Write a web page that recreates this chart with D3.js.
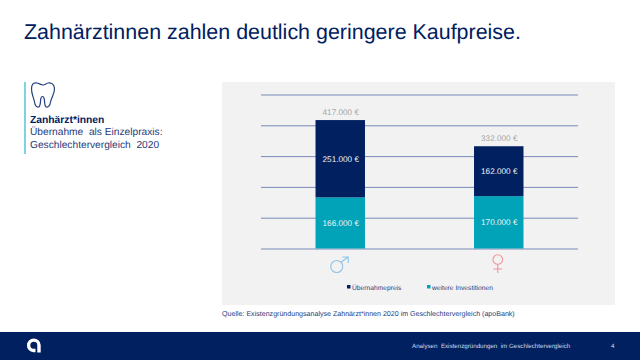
<!DOCTYPE html>
<html lang="de">
<head>
<meta charset="utf-8">
<title>Kaufpreise</title>
<script src="https://cdn.jsdelivr.net/npm/d3@7"></script>
<style>
	html, body { margin: 0; padding: 0; background: #fff; }
	svg { display: block; font-family: "Liberation Sans", Arial, sans-serif; text-rendering: geometricPrecision; }
</style>
</head>
<body>
<div id="chart"></div>
<script>
// Data
const categories = ["männlich", "weiblich"];
const seriesNames = ["weitere Investitionen", "Übernahmepreis"];
const weitereInvestitionen = [166000, 170000];
const uebernahmepreis = [251000, 162000];
const totals = [417000, 332000];
const tickValues = [0, 100000, 200000, 300000, 400000, 500000];
const legendLabels = ["Übernahmepreis", "weitere Investitionen"];

// Configuration variables
const navy = "#002060";
const teal = "#00a3b8";
const gridColor = "#7a8bb8";
const textBlue = "#1f3a7a";

const svg = d3.select("#chart").append("svg").attr("width", 640).attr("height", 360);

const x = d3.scaleBand().domain(categories).range([261, 578]).paddingInner(0.688).paddingOuter(0.344);
const y = d3.scaleLinear().domain([0, 500000]).range([248.5, 94.5]);
const color = d3.scaleOrdinal().domain(seriesNames).range([teal, navy]);
const euro = (v) => d3.format(",")(v).replace(/,/g, ".") + " €";

// Title
svg.append("text").attr("x", 24).attr("y", 38.5).attr("font-size", 21.45).attr("fill", navy)
	.text("Zahnärztinnen zahlen deutlich geringere Kaufpreise.");

// Left info block
svg.append("rect").attr("x", 24).attr("y", 82).attr("width", 2).attr("height", 72).attr("fill", "#7fd3dc");
svg.append("path")
	.attr("d", "M37 83 C33 82 31.500 85 31.500 89 C31.500 94 33.500 97 34.500 102 C35 106 37 107.500 38.500 107 C41 106.500 40 101 41 98 C41.500 96 43.500 96 44 98 C45 101 44 106.500 46.500 107 C48 107.500 50 106 50.500 102 C51.500 97 54.500 94 54.500 89 C54.500 85 52 82 48 83 C46 83.500 45 85 43 85 C41 85 39 83.500 37 83 Z")
	.attr("fill", "none").attr("stroke", "#24407f").attr("stroke-width", 1.2);
svg.append("text").attr("x", 30).attr("y", 122.500).attr("font-size", 10.300).attr("font-weight", "bold").attr("fill", navy).text("Zanhärzt*innen");
const infoText = svg.append("text").attr("x", 30).attr("font-size", 10.200).attr("fill", textBlue).style("white-space", "pre");
infoText.append("tspan").attr("x", 30).attr("y", 135).text("Übernahme  als Einzelpraxis:");
infoText.append("tspan").attr("x", 30).attr("y", 148).text("Geschlechtervergleich  2020");

// Chart panel
svg.append("rect").attr("x", 222).attr("y", 82).attr("width", 393).attr("height", 223).attr("fill", "#f2f2f2");

// Gridlines
const grid = svg.append("g").attr("transform", "translate(261,0)")
	.call(d3.axisRight(y).tickValues(tickValues).tickSize(317).tickFormat(""));
grid.select(".domain").remove();
grid.selectAll("line").attr("stroke", gridColor).attr("stroke-width", 1);

// Stacked bars
const stackRows = categories.map((c, i) => ({
	category: c,
	"weitere Investitionen": weitereInvestitionen[i],
	"Übernahmepreis": uebernahmepreis[i],
}));
const stacked = d3.stack().keys(seriesNames)(stackRows);

const layers = svg.append("g").selectAll("g").data(stacked).enter().append("g").attr("fill", (d) => color(d.key));
layers.selectAll("rect").data((d) => d).enter().append("rect")
	.attr("x", (d) => x(d.data.category))
	.attr("y", (d) => y(d[1]))
	.attr("width", x.bandwidth())
	.attr("height", (d) => y(d[0]) - y(d[1]));
layers.selectAll("text").data((d) => d).enter().append("text")
	.attr("x", (d) => x(d.data.category) + x.bandwidth() / 2 + 0.5)
	.attr("y", (d) => (y(d[0]) + y(d[1])) / 2 + 2.800)
	.attr("text-anchor", "middle").attr("font-size", 8.200).attr("fill", "#eef2f6")
	.text((d) => euro(d[1] - d[0]));

// Totals above bars
svg.append("g").selectAll("text").data(categories).enter().append("text")
	.attr("x", (d) => x(d) + x.bandwidth() / 2 + 0.5)
	.attr("y", (d, i) => y(totals[i]) - 5.500)
	.attr("text-anchor", "middle").attr("font-size", 8.200).attr("fill", "#a6a6a6")
	.text((d, i) => euro(totals[i]));

// Gender symbols
const male = svg.append("g").attr("transform", `translate(${x(categories[0]) + x.bandwidth() / 2},0)`)
	.attr("fill", "none").attr("stroke", "#8ec4ea").attr("stroke-width", 1.1);
male.append("circle").attr("cx", -3.500).attr("cy", 266.500).attr("r", 6);
male.append("path").attr("d", "M1 262 L8 257 M2 257 L8 257 L8 263");
const female = svg.append("g").attr("transform", `translate(${x(categories[1]) + x.bandwidth() / 2},0)`)
	.attr("fill", "none").attr("stroke", "#f2929a").attr("stroke-width", 1.1);
female.append("circle").attr("cx", -1).attr("cy", 259.500).attr("r", 4.800);
female.append("path").attr("d", "M-1 264 L-1 273 M-5.500 269 L3.500 269");

// Legend
const legend = svg.append("g").selectAll("g").data(legendLabels).enter().append("g")
	.attr("transform", (d, i) => `translate(${[347, 427][i]},0)`);
legend.append("rect").attr("y", 285).attr("width", 3.500).attr("height", 3.500).attr("fill", (d) => color(d));
legend.append("text").attr("x", 5).attr("y", 289.500).attr("font-size", 6.700).attr("fill", textBlue).text((d) => d);

// Source
svg.append("text").attr("x", 222).attr("y", 316).attr("font-size", 7.080).attr("fill", textBlue)
	.text("Quelle: Existenzgründungsanalyse Zahnärzt*innen 2020 im Geschlechtervergleich (apoBank)");

// Footer
svg.append("rect").attr("x", 0).attr("y", 332).attr("width", 640).attr("height", 28).attr("fill", navy);
svg.append("path")
	.attr("d", "M35.500 350.500 H33.500 A5.200 5.200 0 1 1 39 345 V352.500")
	.attr("fill", "none").attr("stroke", "#fff").attr("stroke-width", 3.400);
svg.append("text").attr("x", 412).attr("y", 347.500).attr("font-size", 6.200).attr("fill", "#d5dbe8").style("white-space", "pre")
	.text("Analysen  Existenzgründungen  im Geschlechtervergleich");
svg.append("text").attr("x", 611).attr("y", 347.500).attr("font-size", 6.200).attr("fill", "#d5dbe8").text("4");
</script>
</body>
</html>
